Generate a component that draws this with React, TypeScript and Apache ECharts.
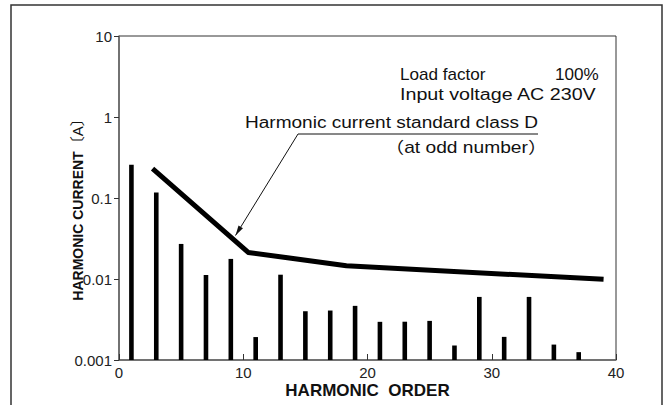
import { useEffect, useRef } from "react";
import * as echarts from "echarts";

const harmonicOrders = [1, 3, 5, 7, 9, 11, 13, 15, 17, 19, 21, 23, 25, 27, 29, 31, 33, 35, 37];
const harmonicCurrents = [
  0.258, 0.117, 0.0271, 0.0112, 0.0177, 0.00192, 0.0113, 0.004, 0.00408, 0.00466,
  0.00296, 0.00297, 0.00304, 0.00151, 0.00601, 0.00193, 0.00601, 0.00155, 0.00125,
];
const limitOrders = [2.7, 10.4, 18.3, 39];
const limitCurrents = [0.23, 0.0213, 0.0146, 0.0099];
const xTickLabels = ["0", "10", "20", "30", "40"];
const yTickLabels = ["0.001", "0.01", "0.1", "1", "10"];

const FONT = "'Liberation Sans', Arial, Helvetica, 'Noto Sans CJK JP', sans-serif";

function arrowHead(tx: number, ty: number, fx: number, fy: number, len: number, half: number) {
  const dx = tx - fx;
  const dy = ty - fy;
  const d = Math.sqrt(dx * dx + dy * dy);
  const ux = dx / d;
  const uy = dy / d;
  const bx = tx - ux * len;
  const by = ty - uy * len;
  return [
    [tx, ty],
    [bx - uy * half, by + ux * half],
    [bx + uy * half, by - ux * half],
  ];
}

export default function App() {
  const ref = useRef<HTMLDivElement>(null);
  useEffect(() => {
    if (!ref.current) return;
    const chart = echarts.init(ref.current, undefined, { renderer: "svg" });
    const barData = harmonicOrders.map((h, i) => [h, harmonicCurrents[i]]);
    const lineData = limitOrders.map((h, i) => [h, limitCurrents[i]]);
    const arrowFrom = [298, 134];
    const arrowTo = [235.5, 235.5];
    const textStyle = (text: string, size = 16, extra: any = {}) => ({
      text,
      fontSize: size,
      fontFamily: FONT,
      fill: "#111",
      verticalAlign: "middle",
      ...extra,
    });
    chart.setOption({
      animation: false,
      backgroundColor: "#fff",
      grid: {
        left: 119,
        top: 36,
        width: 497,
        height: 324,
        show: true,
        borderColor: "#333",
        borderWidth: 1,
      },
      xAxis: {
        type: "value",
        min: 0,
        max: 40,
        interval: 10,
        name: "HARMONIC  ORDER",
        nameLocation: "middle",
        nameGap: 22,
        nameMoveOverlap: false,
        nameTextStyle: { fontFamily: FONT, fontWeight: "bold", fontSize: 17, color: "#111" },
        axisLine: { show: true, lineStyle: { color: "#666", width: 1.5 } },
        axisTick: { show: true, inside: true, length: 6, lineStyle: { color: "#333" } },
        axisLabel: {
          fontFamily: FONT,
          fontSize: 15,
          color: "#222",
          margin: 5,
          formatter: (v: number) => xTickLabels[Math.round(v / 10)] ?? "",
        },
        splitLine: { show: false },
      },
      yAxis: {
        type: "log",
        logBase: 10,
        min: 0.001,
        max: 10,
        name: "{b|HARMONIC CURRENT}{r|〔A〕}",
        nameLocation: "middle",
        nameGap: 34,
        nameMoveOverlap: false,
        nameTextStyle: {
          padding: [0, 16, 0, 0],
          rich: {
            b: { fontFamily: FONT, fontWeight: "bold", fontSize: 14, color: "#111" },
            r: { fontFamily: FONT, fontSize: 15, color: "#111" },
          },
        },
        axisLine: { show: true, lineStyle: { color: "#666", width: 1.5 } },
        axisTick: { show: true, inside: false, length: 5, lineStyle: { color: "#333" } },
        minorTick: { show: false },
        axisLabel: {
          fontFamily: FONT,
          fontSize: 15,
          color: "#222",
          margin: 7,
          formatter: (v: number) => yTickLabels[Math.round(Math.log10(v)) + 3] ?? "",
        },
        splitLine: { show: false },
      },
      series: [
        {
          type: "custom",
          data: barData,
          renderItem: (params: any, api: any) => {
            const x = api.value(0);
            const v = api.value(1);
            const top = api.coord([x, v]);
            const bottom = api.coord([x, 0.001]);
            const w = 4.6;
            return {
              type: "rect",
              shape: { x: top[0] - w / 2, y: top[1], width: w, height: bottom[1] - top[1] },
              style: { fill: "#000" },
            };
          },
          z: 3,
        },
        {
          type: "line",
          data: lineData,
          showSymbol: false,
          symbol: "none",
          lineStyle: { color: "#000", width: 5, join: "round", cap: "butt" },
          z: 4,
        },
      ],
      graphic: [
        {
          type: "rect",
          shape: { x: 11, y: 5, width: 651, height: 420 },
          style: { fill: "none", stroke: "#333", lineWidth: 1.5 },
          silent: true,
        },
        { type: "text", x: 400, y: 75, scaleX: 1.07, style: textStyle("Load factor") },
        { type: "text", x: 555, y: 75, scaleX: 1.07, style: textStyle("100%") },
        { type: "text", x: 400, y: 95, scaleX: 1.23, style: textStyle("Input voltage AC 230V") },
        { type: "text", x: 245, y: 123, scaleX: 1.19, style: textStyle("Harmonic current standard class D") },
        { type: "text", x: 385, y: 148, scaleX: 1.2, style: textStyle("（at odd number）") },
        {
          type: "line",
          shape: { x1: 298, y1: 134, x2: 538, y2: 134 },
          style: { stroke: "#111", lineWidth: 1 },
        },
        {
          type: "line",
          shape: { x1: arrowFrom[0], y1: arrowFrom[1], x2: arrowTo[0], y2: arrowTo[1] },
          style: { stroke: "#111", lineWidth: 1 },
        },
        {
          type: "polygon",
          shape: { points: arrowHead(arrowTo[0], arrowTo[1], arrowFrom[0], arrowFrom[1], 10, 2.6) },
          style: { fill: "#111" },
        },
      ],
    });
    return () => chart.dispose();
  }, []);
  return (
    <div
      ref={ref}
      style={{ position: "fixed", left: 0, top: 0, width: 669, height: 405, background: "#fff" }}
    />
  );
}
